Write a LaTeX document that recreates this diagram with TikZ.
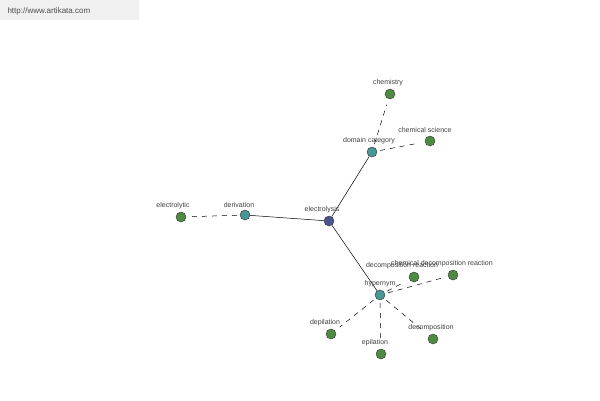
\documentclass[tikz,border=0pt]{standalone}
\usepackage{fontspec}
\setmainfont{Liberation Sans}
\definecolor{hubc}{HTML}{4A5590}
\definecolor{midc}{HTML}{4A9595}
\definecolor{leafc}{HTML}{4F8A45}
\begin{document}
\begin{tikzpicture}[x=1pt,y=-1pt,
  nd/.style={circle,draw=black!80,line width=0.4pt,minimum size=10pt,inner sep=0pt},
  hub/.style={nd,fill=hubc},
  mid/.style={nd,fill=midc},
  leaf/.style={nd,fill=leafc},
  lab/.style={font=\fontsize{7}{8}\selectfont,text=black!75},
  dl/.style={dashed,dash pattern=on 5pt off 5pt,line width=0.5pt,shorten >=6pt,shorten <=3pt},
  sl/.style={line width=0.5pt}]
\useasboundingbox (0,0) rectangle (600,400);
\fill[white] (0,0) rectangle (600,400);
\fill[black!6] (0,0) rectangle (139,20);
\node[anchor=west,font=\fontsize{8}{9}\selectfont,text=black!70] (url) at (4,11) {http://www.artikata.com};
\node[hub] (e) at (329,221) {};
\node[mid] (dc) at (372,152) {};
\node[leaf] (ch) at (390,94) {};
\node[leaf] (cs) at (430,141) {};
\node[mid] (der) at (245,215) {};
\node[leaf] (el) at (181,217) {};
\node[mid] (hy) at (380,295) {};
\node[leaf] (dr) at (414,277) {};
\node[leaf] (cdr) at (453,275) {};
\node[leaf] (dep) at (331,334) {};
\node[leaf] (epi) at (381,354) {};
\node[leaf] (dec) at (433,339) {};
\draw[sl] (e) -- (dc); \draw[sl] (e) -- (der); \draw[sl] (e) -- (hy);
\draw[dl] (dc) -- (ch); \draw[dl] (dc) -- (cs);
\draw[dl] (der) -- (el);
\foreach \t in {dr,cdr,dep,epi,dec} \draw[dl] (hy) -- (\t);
\node[lab] (le) at (322,210) {electrolysis};
\node[lab] (ldc) at (369,141) {domain category};
\node[lab] (lch) at (388,83) {chemistry};
\node[lab] (lcs) at (425,130) {chemical science};
\node[lab] (lder) at (239,205) {derivation};
\node[lab] (lel) at (173,206) {electrolytic};
\node[lab] (lhy) at (380,284) {hypernym};
\node[lab] (ldr) at (402,266) {decomposition reaction};
\node[lab] (lcdr) at (442,264) {chemical decomposition reaction};
\node[lab] (ldep) at (325,323) {depilation};
\node[lab] (lepi) at (375,343) {epilation};
\node[lab] (ldec) at (431,328) {decomposition};
\end{tikzpicture}
\end{document}
